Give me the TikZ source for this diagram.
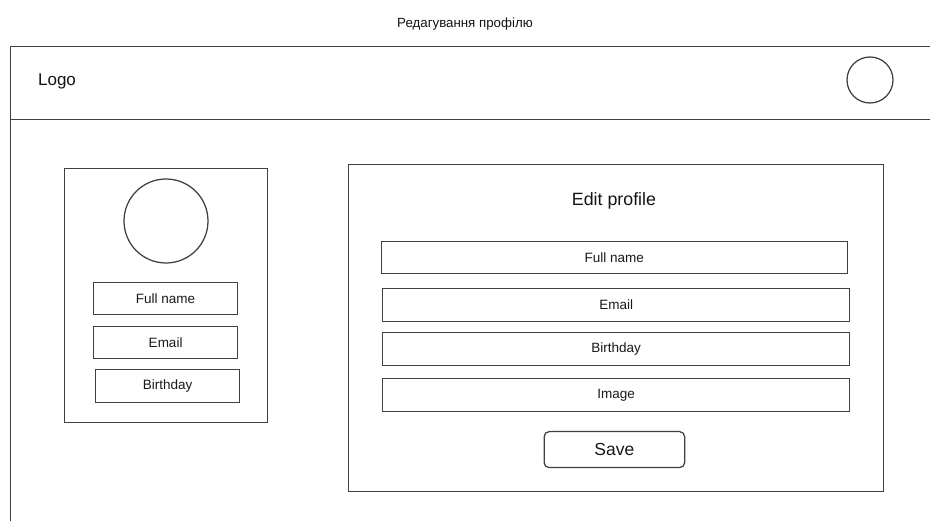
\documentclass[tikz,border=0pt]{standalone}
\usepackage{fontspec}
\setmainfont{Liberation Sans}
\begin{document}
\begin{tikzpicture}[x=1pt,y=-1pt,
  line width=1.25pt,
  edge/.style={draw=black!75},
  panel/.style={edge, rectangle, anchor=north west, inner sep=0pt},
  field/.style={panel, font=\fontsize{13.5}{15}\selectfont, text=black!90},
  ring/.style={edge, circle, inner sep=0pt},
  label/.style={inner sep=0pt, text=black!92}]
  \useasboundingbox (0,0) rectangle (930,521);
  \fill[white] (0,0) rectangle (930,521);

  % page title
  \node[label, font=\fontsize{13.3}{15}\selectfont] (title) at (465,24.5) {Редагування профілю};

  % page frame and header bar (continues past the right and bottom edges)
  \begin{scope}
    \clip (0,0) rectangle (930,521);
    \node[panel, minimum width=940pt, minimum height=490pt] (page) at (9.5,46) {};
    \node[panel, minimum width=940pt, minimum height=73pt] (header) at (9.5,46) {};
  \end{scope}
  \node[label, anchor=west, font=\fontsize{17}{19}\selectfont] (logo) at (37.5,81.5) {Logo};
  \node[ring, minimum size=46pt] (account) at (870,80) {};

  % profile summary card
  \node[panel, minimum width=203.5pt, minimum height=254pt] (card) at (63.5,168) {};
  \node[ring, minimum size=84pt] (avatar) at (166,221) {};
  \node[field, minimum width=144pt, minimum height=32pt] (sname) at (93,282) {Full name};
  \node[field, minimum width=144pt, minimum height=32pt] (semail) at (93,326) {Email};
  \node[field, minimum width=144pt, minimum height=33pt] (sbirth) at (95,369) {Birthday};

  % edit form
  \node[panel, minimum width=535pt, minimum height=327pt] (form) at (348,164) {};
  \node[label, font=\fontsize{17.8}{19}\selectfont] (formtitle) at (614,200.5) {Edit profile};
  \node[field, minimum width=466.5pt, minimum height=32pt] (fname) at (380.5,241) {Full name};
  \node[field, minimum width=467pt, minimum height=33pt] (femail) at (382,288) {Email};
  \node[field, minimum width=467pt, minimum height=33pt] (fbirth) at (382,332) {Birthday};
  \node[field, minimum width=467pt, minimum height=33pt] (fimage) at (382,378) {Image};
  \node[field, rounded corners=5pt, minimum width=140.5pt, minimum height=36pt,
        font=\fontsize{17.5}{19}\selectfont] (save) at (543.5,431) {Save};
\end{tikzpicture}
\end{document}
